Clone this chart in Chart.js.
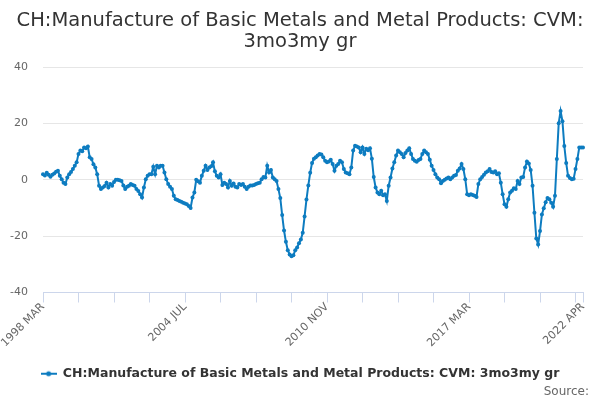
<!DOCTYPE html>
<html>
<head>
<meta charset="utf-8">
<title>CH:Manufacture of Basic Metals and Metal Products: CVM: 3mo3my gr</title>
<script src="https://cdn.jsdelivr.net/npm/chart.js"></script>
<style>
  html, body { margin: 0; padding: 0; background: #fff; }
  #wrap { position: relative; width: 600px; height: 400px; }
</style>
</head>
<body>
<div id="wrap"><canvas id="chart"></canvas></div>
<script>
// --- Data (monthly, 1998 MAR .. 2022 APR) ---
const seriesName = 'CH:Manufacture of Basic Metals and Metal Products: CVM: 3mo3my gr';
const startYear = 1998;
const startMonth = 2; // MAR
const monthNames = ['JAN', 'FEB', 'MAR', 'APR', 'MAY', 'JUN', 'JUL', 'AUG', 'SEP', 'OCT', 'NOV', 'DEC'];

const growth = [
  2.0, 1.5, 2.5, 1.8, 1.1, 1.8, 2.2, 2.9, 3.2, 1.4, 0.2, -1.0,
  -1.5, 0.8, 2.0, 2.8, 3.8, 5.0, 6.2, 9.2, 10.4, 10.1, 11.5, 11.2,
  11.8, 8.0, 7.4, 5.5, 4.4, 2.0, -2.1, -3.3, -2.7, -2.2, -1.0, -2.7,
  -1.5, -2.1, -0.8, 0.0, 0.0, -0.2, -0.4, -2.0, -3.3, -2.5, -2.1, -1.5,
  -1.8, -2.1, -3.3, -4.0, -5.1, -6.3, -2.7, 0.2, 1.4, 2.0, 2.0, 4.6,
  2.0, 5.0, 4.4, 5.0, 5.0, 2.6, 0.2, -1.5, -2.5, -3.3, -5.7, -6.9,
  -7.2, -7.5, -7.8, -8.1, -8.4, -8.7, -9.3, -10.0, -6.3, -4.5, 0.0, -0.5,
  -1.0, 1.4, 3.2, 5.0, 3.5, 4.4, 4.8, 6.2, 3.0, 1.4, 0.8, 2.0,
  -1.8, -1.0, -1.5, -2.7, -0.4, -2.1, -1.3, -2.5, -2.7, -1.5, -1.8, -1.5,
  -2.5, -3.3, -2.5, -2.0, -2.0, -1.8, -1.5, -1.2, -1.0, 0.2, 1.0, 0.8,
  5.0, 2.6, 3.5, 0.8, 0.2, -0.4, -3.3, -6.5, -12.5, -18.0, -22.0, -25.0,
  -26.5, -27.1, -26.8, -25.0, -24.0, -22.5, -21.2, -18.8, -13.0, -7.0, -2.0, 2.5,
  6.0, 7.5, 8.0, 8.6, 9.2, 9.0, 8.0, 6.8, 6.2, 6.5, 7.1, 5.6,
  3.2, 5.0, 5.6, 6.8, 6.2, 3.8, 2.6, 2.3, 2.0, 4.4, 10.4, 12.1,
  11.8, 11.5, 9.8, 11.5, 9.2, 11.0, 10.5, 11.2, 7.5, 1.0, -2.7, -4.5,
  -5.1, -3.9, -5.5, -5.1, -7.5, -2.1, 0.8, 4.0, 6.2, 8.6, 10.4, 9.8,
  9.2, 8.0, 9.5, 10.4, 11.2, 9.2, 7.4, 6.8, 6.4, 7.0, 7.4, 9.2,
  10.4, 9.8, 9.2, 7.1, 5.0, 3.5, 2.0, 0.8, 0.2, -1.2, -0.4, 0.0,
  0.5, 0.8, 0.2, 0.8, 1.4, 1.7, 3.2, 4.0, 5.6, 3.8, 0.2, -5.1,
  -5.5, -5.1, -5.4, -5.7, -6.1, -1.5, 0.2, 1.0, 1.8, 2.6, 3.0, 3.8,
  2.8, 2.6, 3.0, 2.0, 2.3, -1.0, -5.1, -8.7, -9.6, -6.9, -4.5, -3.9,
  -3.0, -3.3, -0.4, -1.5, 0.8, 1.0, 4.4, 6.5, 5.8, 3.5, -2.1, -11.7,
  -20.8, -23.0, -18.2, -12.3, -10.1, -8.0, -6.5, -6.9, -8.1, -9.6, -5.7, 7.4,
  20.1, 24.4, 20.8, 12.0, 6.0, 1.4, 0.6, 0.2, 0.4, 3.8, 7.4, 11.5,
  11.5, 11.5
];

// category labels, e.g. "1998 MAR"
const months = growth.map((_, i) => {
  const m = startMonth + i;
  return (startYear + Math.floor(m / 12)) + ' ' + monthNames[m % 12];
});

const labelledTicks = [0, 76, 152, 228, growth.length - 1]; // ticks that show text
const tickStep = 19;                                         // tick mark every 19 months
const yTicks = [-40, -20, 0, 20, 40];
const sourceText = 'Source:';

const lineColor = '#0d7cc0';
const fontFamily = '"DejaVu Sans", "Liberation Sans", sans-serif';

// legend symbol: short line with a dot
const legendSymbol = document.createElement('canvas');
legendSymbol.width = 16;
legendSymbol.height = 8;
(function() {
  const c = legendSymbol.getContext('2d');
  c.strokeStyle = lineColor;
  c.lineWidth = 2;
  c.beginPath();
  c.moveTo(0, 4);
  c.lineTo(16, 4);
  c.stroke();
  c.fillStyle = lineColor;
  c.beginPath();
  c.arc(8, 4, 2.5, 0, Math.PI * 2);
  c.fill();
})();

const isTickMark = (i) => i % tickStep === 0 || i === growth.length - 1;

// "Source:" credit in the bottom right corner
const sourceCredit = {
  id: 'sourceCredit',
  afterDraw(chart) {
    const c = chart.ctx;
    c.save();
    c.font = '12px ' + fontFamily;
    c.fillStyle = '#666666';
    c.textAlign = 'right';
    c.textBaseline = 'middle';
    c.fillText(sourceText, 589, 392);
    c.restore();
  }
};

new Chart(document.getElementById('chart').getContext('2d'), {
  type: 'line',
  data: {
    labels: months,
    datasets: [{
      label: seriesName,
      data: growth,
      borderColor: lineColor,
      backgroundColor: lineColor,
      borderWidth: 2,
      pointRadius: 2,
      pointHoverRadius: 2,
      pointBorderWidth: 0,
      tension: 0,
      fill: false
    }]
  },
  plugins: [sourceCredit],
  options: {
    responsive: true,
    maintainAspectRatio: false,
    animation: false,
    layout: { padding: { left: 0, right: 0, top: 0, bottom: 10 } },
    scales: {
      x: {
        type: 'category',
        offset: false,
        border: { color: '#ccd6eb', width: 1 },
        grid: {
          drawOnChartArea: false,
          drawTicks: true,
          tickLength: 10,
          tickWidth: 1,
          tickColor: (ctx) => isTickMark(ctx.index) ? '#ccd6eb' : 'rgba(0,0,0,0)'
        },
        ticks: {
          autoSkip: false,
          minRotation: 45,
          maxRotation: 45,
          padding: -2,
          color: '#666666',
          font: { family: fontFamily, size: 11 },
          callback: function(value, index) {
            return labelledTicks.includes(index) ? months[index] : '';
          }
        },
        afterFit: function(scale) {
          scale.paddingLeft = 0;
          scale.paddingRight = 17;
          scale.height = 74;
        }
      },
      y: {
        min: -40,
        max: 40,
        border: { display: false },
        grid: { color: '#e6e6e6', drawTicks: false },
        afterBuildTicks: function(scale) {
          scale.ticks = yTicks.map(v => ({ value: v }));
        },
        ticks: {
          padding: 15,
          color: '#666666',
          font: { family: fontFamily, size: 11 }
        },
        afterFit: function(scale) {
          scale.width = 43;
        }
      }
    },
    plugins: {
      title: {
        display: true,
        text: ['CH:Manufacture of Basic Metals and Metal Products: CVM:', '3mo3my gr'],
        color: '#333333',
        font: { family: fontFamily, size: 19.5, weight: 'normal', lineHeight: 1.08 },
        padding: { top: 10, bottom: 15 }
      },
      legend: {
        position: 'bottom',
        labels: {
          usePointStyle: true,
          pointStyle: legendSymbol,
          pointStyleWidth: 16,
          color: '#333333',
          font: { family: fontFamily, size: 12.5, weight: 'bold' },
          padding: 1
        }
      },
      tooltip: { enabled: false }
    }
  }
});
</script>
</body>
</html>
